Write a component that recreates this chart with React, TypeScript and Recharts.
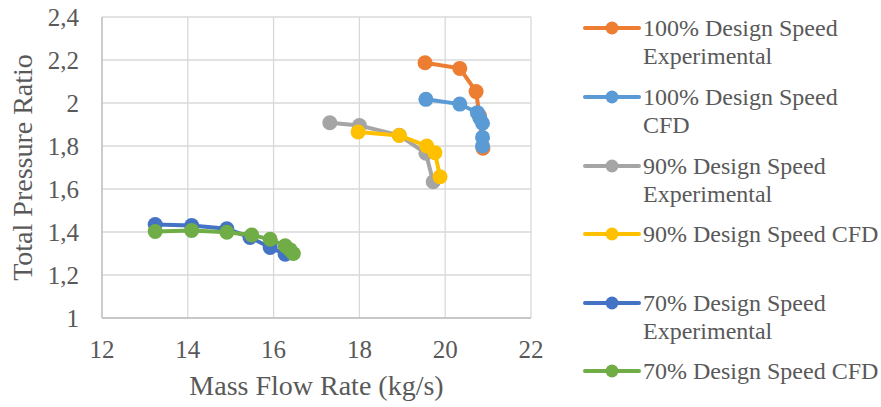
import React from "react";
import { ScatterChart, Scatter, XAxis, YAxis, CartesianGrid, Label } from "recharts";

const exp100 = [
  { x: 19.53, y: 2.187 },
  { x: 20.34, y: 2.161 },
  { x: 20.72, y: 2.053 },
  { x: 20.8, y: 1.94 },
  { x: 20.88, y: 1.79 },
];
const cfd100 = [
  { x: 19.55, y: 2.017 },
  { x: 20.34, y: 1.995 },
  { x: 20.75, y: 1.955 },
  { x: 20.81, y: 1.929 },
  { x: 20.87, y: 1.906 },
  { x: 20.87, y: 1.84 },
  { x: 20.87, y: 1.8 },
];
const exp90 = [
  { x: 17.31, y: 1.908 },
  { x: 18.0, y: 1.895 },
  { x: 18.93, y: 1.85 },
  { x: 19.55, y: 1.766 },
  { x: 19.72, y: 1.634 },
];
const cfd90 = [
  { x: 17.97, y: 1.865 },
  { x: 18.93, y: 1.849 },
  { x: 19.57, y: 1.8 },
  { x: 19.76, y: 1.769 },
  { x: 19.88, y: 1.657 },
];
const exp70 = [
  { x: 13.24, y: 1.435 },
  { x: 14.09, y: 1.43 },
  { x: 14.91, y: 1.415 },
  { x: 15.45, y: 1.375 },
  { x: 15.92, y: 1.328 },
  { x: 16.27, y: 1.297 },
  { x: 16.4, y: 1.305 },
];
const cfd70 = [
  { x: 13.24, y: 1.402 },
  { x: 14.09, y: 1.407 },
  { x: 14.91, y: 1.399 },
  { x: 15.49, y: 1.386 },
  { x: 15.92, y: 1.366 },
  { x: 16.27, y: 1.336 },
  { x: 16.38, y: 1.318 },
  { x: 16.46, y: 1.3 },
];

const xTicks = [12, 14, 16, 18, 20, 22];
const yTicks = [1, 1.2, 1.4, 1.6, 1.8, 2, 2.2, 2.4];

const seriesNames = [
  ["100% Design Speed", "Experimental"],
  ["100% Design Speed", "CFD"],
  ["90% Design Speed", "Experimental"],
  ["90% Design Speed CFD"],
  ["70% Design Speed", "Experimental"],
  ["70% Design Speed CFD"],
];
const colors = ["#ED7D31", "#5B9BD5", "#A5A5A5", "#FFC000", "#4472C4", "#70AD47"];
const seriesData = [exp100, cfd100, exp90, cfd90, exp70, cfd70];
const legendY = [28, 97, 166, 234, 303, 371];

const FONT = "Liberation Serif";
const TEXT = "#595959";

const fmt = (v: number) => String(Math.round(v * 10) / 10).replace(".", ",");

export default function App() {
  return (
    <div style={{ position: "fixed", left: 0, top: 0, width: 881, height: 407, background: "#fff", fontFamily: FONT }}>
      <ScatterChart width={881} height={407} margin={{ top: 17, right: 350, bottom: 0, left: 0 }} style={{ fontFamily: FONT }}>
        <CartesianGrid stroke="#d9d9d9" strokeWidth={1.3} />
        <XAxis
          type="number"
          dataKey="x"
          domain={[12, 22]}
          ticks={xTicks}
          height={89}
          tickLine={false}
          tickSize={0}
          tickMargin={22}
          axisLine={{ stroke: "#bfbfbf", strokeWidth: 1.3 }}
          tick={{ fill: TEXT, fontSize: 25, fontFamily: FONT }}
          allowDataOverflow
        >
          <Label value="Mass Flow Rate (kg/s)" position="insideBottom" offset={12} fill={TEXT} fontSize={28} fontFamily={FONT} />
        </XAxis>
        <YAxis
          type="number"
          dataKey="y"
          domain={[1, 2.4]}
          ticks={yTicks}
          width={102}
          tickLine={false}
          tickSize={0}
          tickMargin={23}
          tickFormatter={fmt}
          axisLine={{ stroke: "#bfbfbf", strokeWidth: 1.3 }}
          tick={{ fill: TEXT, fontSize: 25, fontFamily: FONT }}
          allowDataOverflow
        >
          <Label value="Total Pressure Ratio" angle={-90} position="insideLeft" offset={22} fill={TEXT} fontSize={28} fontFamily={FONT} style={{ textAnchor: "middle" }} />
        </YAxis>
        {seriesData.map((d, i) => (
          <Scatter
            key={i}
            data={d}
            fill={colors[i]}
            line={{ stroke: colors[i], strokeWidth: 4 }}
            lineType="joint"
            isAnimationActive={false}
            shape={(p: any) => <circle cx={p.cx} cy={p.cy} r={7.5} fill={colors[i]} />}
          />
        ))}
      </ScatterChart>
      {seriesNames.map((lines, i) => (
        <div key={i} style={{ position: "absolute", left: 583, top: legendY[i] - 14, height: 28 }}>
          <svg width={58} height={28} style={{ position: "absolute", left: 0, top: 0 }}>
            <line x1={2} y1={14} x2={56} y2={14} stroke={colors[i]} strokeWidth={4} strokeLinecap="round" />
            <circle cx={29} cy={14} r={6.5} fill={colors[i]} />
          </svg>
          <div style={{ position: "absolute", left: 60, top: 0, whiteSpace: "nowrap", color: TEXT, fontSize: 24, lineHeight: "28px", fontFamily: FONT }}>
            {lines.map((t, j) => (
              <div key={j}>{t}</div>
            ))}
          </div>
        </div>
      ))}
    </div>
  );
}
